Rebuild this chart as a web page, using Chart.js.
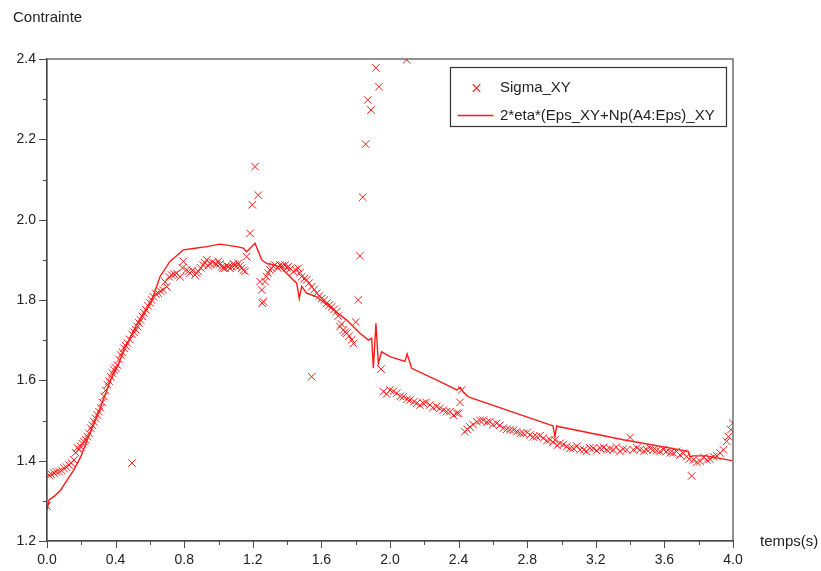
<!DOCTYPE html>
<html>
<head>
<meta charset="utf-8">
<script src="https://cdn.jsdelivr.net/npm/chart.js@4/dist/chart.umd.min.js"></script>
<style>
  html, body { margin: 0; padding: 0; background: #ffffff; }
  #wrap { width: 821px; height: 571px; position: relative; }
</style>
</head>
<body>
<div id="wrap"><canvas id="c"></canvas></div>
<script>
// ---- data ----
const sigmaLabel = 'Sigma_XY';
const modelLabel = '2*eta*(Eps_XY+Np(A4:Eps)_XY';
const xTitle = 'temps(s)';
const yTitle = 'Contrainte';

// Sigma_XY markers (first pass of readings)
const tSigma = [
  0.000, 0.012, 0.041, 0.070, 0.099, 0.128, 0.157, 0.177, 0.197, 0.216,
  0.235, 0.255, 0.274, 0.293, 0.313, 0.332, 0.342, 0.352, 0.371, 0.391,
  0.410, 0.430, 0.449, 0.468, 0.496, 0.497, 0.517, 0.536, 0.556, 0.576,
  0.601, 0.620, 0.649, 0.678, 0.698, 0.727, 0.756, 0.776, 0.795, 0.814,
  0.834, 0.863, 0.882, 0.911, 0.931, 0.950, 0.980, 0.999, 1.019, 1.038,
  1.057, 1.077, 1.096, 1.115, 1.135, 1.155, 1.164, 1.184, 1.197, 1.213,
  1.232, 1.242, 1.252, 1.255, 1.261, 1.271, 1.290, 1.310, 1.329, 1.359,
  1.388, 1.407, 1.436, 1.465, 1.485, 1.514, 1.543, 1.543, 1.573, 1.602,
  1.631, 1.660, 1.689, 1.708, 1.728, 1.748, 1.777, 1.787, 1.800, 1.815,
  1.825, 1.841, 1.858, 1.870, 1.889, 1.918, 1.936, 1.948, 1.961, 2.000,
  2.039, 2.078, 2.097, 2.117, 2.156, 2.194, 2.233, 2.272, 2.311, 2.350,
  2.389, 2.408, 2.418, 2.437, 2.466, 2.506, 2.544, 2.583, 2.622, 2.661,
  2.700, 2.739, 2.777, 2.816, 2.855, 2.894, 2.933, 2.962, 2.991, 3.030,
  3.069, 3.108, 3.147, 3.185, 3.225, 3.264, 3.302, 3.341, 3.380, 3.400,
  3.419, 3.458, 3.497, 3.536, 3.575, 3.613, 3.652, 3.691, 3.730, 3.759,
  3.769, 3.808, 3.847, 3.886, 3.925, 3.944, 3.963, 3.973, 3.987, 3.999
];
const sigmaXY = [
  1.287, 1.364, 1.369, 1.373, 1.381, 1.389, 1.402, 1.432, 1.435, 1.447,
  1.460, 1.481, 1.497, 1.514, 1.531, 1.560, 1.575, 1.589, 1.609, 1.626,
  1.638, 1.663, 1.680, 1.693, 1.394, 1.714, 1.726, 1.743, 1.759, 1.776,
  1.793, 1.808, 1.817, 1.825, 1.833, 1.862, 1.866, 1.858, 1.896, 1.875,
  1.867, 1.862, 1.871, 1.887, 1.900, 1.891, 1.891, 1.896, 1.883, 1.879,
  1.883, 1.883, 1.887, 1.891, 1.879, 1.871, 1.908, 1.966, 2.037, 2.132,
  2.061, 1.846, 1.825, 1.792, 1.796, 1.846, 1.867, 1.879, 1.887, 1.887,
  1.887, 1.883, 1.871, 1.879, 1.858, 1.850, 1.833, 1.609, 1.817, 1.804,
  1.792, 1.783, 1.771, 1.734, 1.725, 1.717, 1.701, 1.692, 1.745, 1.800,
  1.910, 2.056, 2.188, 2.298, 2.273, 2.378, 2.331, 1.628, 1.572, 1.576,
  1.568, 1.559, 2.398, 1.551, 1.543, 1.543, 1.539, 1.535, 1.526, 1.522,
  1.518, 1.545, 1.576, 1.472, 1.484, 1.497, 1.501, 1.497, 1.493, 1.481,
  1.477, 1.472, 1.468, 1.464, 1.460, 1.456, 1.452, 1.452, 1.443, 1.435,
  1.431, 1.427, 1.423, 1.431, 1.431, 1.427, 1.427, 1.423, 1.427, 1.458,
  1.427, 1.427, 1.427, 1.427, 1.423, 1.423, 1.419, 1.414, 1.410, 1.362,
  1.402, 1.398, 1.402, 1.410, 1.419, 1.427, 1.448, 1.460, 1.477, 1.493
];

// Sigma_XY markers (second pass: the overlapping markers of the dense band)
const tSigmaB = [
  0.025, 0.055, 0.085, 0.113, 0.142, 0.167, 0.187, 0.207, 0.225, 0.245,
  0.265, 0.284, 0.303, 0.322, 0.362, 0.381, 0.400, 0.420, 0.440, 0.459,
  0.482, 0.507, 0.527, 0.546, 0.566, 0.588, 0.610, 0.635, 0.663, 0.688,
  0.712, 0.742, 0.790, 0.824, 0.848, 0.872, 0.896, 0.920, 0.940, 0.965,
  0.990, 1.010, 1.028, 1.047, 1.067, 1.087, 1.105, 1.125, 1.145, 1.280,
  1.300, 1.320, 1.345, 1.373, 1.398, 1.420, 1.450, 1.475, 1.500, 1.528,
  1.558, 1.588, 1.617, 1.645, 1.675, 1.698, 1.718, 1.738, 1.762, 1.980,
  2.020, 2.060, 2.100, 2.140, 2.175, 2.210, 2.250, 2.290, 2.330, 2.370,
  2.400, 2.450, 2.485, 2.525, 2.565, 2.600, 2.640, 2.680, 2.720, 2.760,
  2.800, 2.835, 2.875, 2.915, 2.950, 2.975, 3.010, 3.050, 3.090, 3.130,
  3.165, 3.205, 3.245, 3.285, 3.320, 3.360, 3.440, 3.480, 3.520, 3.555,
  3.595, 3.635, 3.670, 3.710, 3.745, 3.790, 3.830, 3.865, 3.905
];
const sigmaXYB = [
  1.366, 1.372, 1.376, 1.384, 1.394, 1.420, 1.428, 1.442, 1.452, 1.468,
  1.488, 1.505, 1.522, 1.545, 1.598, 1.618, 1.631, 1.652, 1.670, 1.686,
  1.702, 1.720, 1.734, 1.750, 1.768, 1.786, 1.800, 1.815, 1.822, 1.845,
  1.858, 1.864, 1.880, 1.871, 1.874, 1.867, 1.880, 1.893, 1.885, 1.894,
  1.888, 1.890, 1.880, 1.886, 1.879, 1.890, 1.884, 1.885, 1.874, 1.858,
  1.875, 1.884, 1.880, 1.885, 1.880, 1.878, 1.875, 1.868, 1.853, 1.842,
  1.826, 1.810, 1.800, 1.787, 1.777, 1.760, 1.740, 1.720, 1.710, 1.566,
  1.573, 1.560, 1.553, 1.547, 1.538, 1.545, 1.532, 1.530, 1.522, 1.513,
  1.518, 1.478, 1.490, 1.500, 1.496, 1.490, 1.488, 1.478, 1.476, 1.468,
  1.470, 1.459, 1.462, 1.450, 1.446, 1.438, 1.440, 1.431, 1.436, 1.427,
  1.432, 1.425, 1.433, 1.429, 1.434, 1.429, 1.432, 1.424, 1.430, 1.425,
  1.428, 1.420, 1.423, 1.418, 1.404, 1.396, 1.408, 1.404, 1.412
];

// model curve
const tModel = [
  0.000, 0.012, 0.041, 0.080, 0.118, 0.157, 0.197, 0.235, 0.274, 0.313,
  0.342, 0.371, 0.410, 0.449, 0.488, 0.527, 0.566, 0.605, 0.659, 0.717,
  0.756, 0.795, 0.863, 0.931, 1.009, 1.106, 1.145, 1.164, 1.213, 1.252,
  1.281, 1.359, 1.436, 1.456, 1.471, 1.485, 1.514, 1.573, 1.670, 1.748,
  1.825, 1.874, 1.893, 1.903, 1.918, 1.932, 1.951, 2.000, 2.087, 2.100,
  2.126, 2.292, 2.389, 2.410, 2.428, 2.457, 2.933, 2.950, 2.962, 2.972,
  2.981, 3.360, 3.739, 3.749, 3.769, 3.846, 3.994
];
const modelXY = [
  1.277, 1.302, 1.311, 1.327, 1.352, 1.377, 1.410, 1.452, 1.493, 1.534,
  1.568, 1.601, 1.634, 1.676, 1.709, 1.742, 1.767, 1.792, 1.858, 1.896,
  1.910, 1.925, 1.929, 1.933, 1.939, 1.933, 1.929, 1.920, 1.941, 1.900,
  1.891, 1.883, 1.850, 1.842, 1.804, 1.834, 1.817, 1.808, 1.775, 1.750,
  1.717, 1.700, 1.705, 1.630, 1.742, 1.642, 1.671, 1.659, 1.647, 1.666,
  1.630, 1.597, 1.576, 1.582, 1.570, 1.559, 1.489, 1.487, 1.460, 1.487,
  1.485, 1.452, 1.423, 1.410, 1.412, 1.412, 1.400
];

const xTickLabels = ['0.0','0.4','0.8','1.2','1.6','2.0','2.4','2.8','3.2','3.6','4.0'];
const yTickLabels = ['1.2','1.4','1.6','1.8','2.0','2.2','2.4'];

// ---- chart ----
const RED = '#ff1a1a';
const AXIS = '#4a4a4a';
const TXT = '#222222';
const FONT = '"Liberation Sans", Arial, Helvetica, sans-serif';

function isMultiple(v, step) {
  const q = v / step;
  return Math.abs(q - Math.round(q)) < 1e-6;
}

const decorPlugin = {
  id: 'decor',
  afterDraw(chart) {
    const ctx = chart.ctx;
    const a = chart.chartArea;
    const xs = chart.scales.x, ys = chart.scales.y;
    ctx.save();
    // frame
    ctx.strokeStyle = AXIS;
    ctx.lineWidth = 1.2;
    ctx.strokeRect(a.left, a.top, a.right - a.left, a.bottom - a.top);
    // ticks
    ctx.beginPath();
    xs.ticks.forEach(t => {
      const px = Math.round(xs.getPixelForValue(t.value)) + 0.5;
      const len = isMultiple(t.value, 0.4) ? 7 : 4;
      ctx.moveTo(px, a.bottom);
      ctx.lineTo(px, a.bottom + len);
    });
    ys.ticks.forEach(t => {
      const py = Math.round(ys.getPixelForValue(t.value)) + 0.5;
      const len = isMultiple(t.value, 0.2) ? 8 : 4;
      ctx.moveTo(a.left, py);
      ctx.lineTo(a.left - len, py);
    });
    ctx.lineWidth = 1;
    ctx.stroke();
    // axis titles
    ctx.fillStyle = TXT;
    ctx.font = '15px ' + FONT;
    ctx.textBaseline = 'middle';
    ctx.textAlign = 'left';
    ctx.fillText(yTitle, 13, 18);
    ctx.fillText(xTitle, a.right + 27, a.bottom + 1);
    // legend
    const bx = a.right - 282.5, by = a.top + 8.5, bw = 276, bh = 59;
    ctx.fillStyle = '#ffffff';
    ctx.fillRect(bx, by, bw, bh);
    ctx.strokeStyle = '#333333';
    ctx.lineWidth = 1.2;
    ctx.strokeRect(bx, by, bw, bh);
    const ds0 = chart.data.datasets[0], ds1 = chart.data.datasets[1];
    const mx = bx + 26, my = by + 20.5, r = 3.8;
    ctx.strokeStyle = ds0.borderColor;
    ctx.lineWidth = 1.2;
    ctx.beginPath();
    ctx.moveTo(mx - r, my - r); ctx.lineTo(mx + r, my + r);
    ctx.moveTo(mx - r, my + r); ctx.lineTo(mx + r, my - r);
    ctx.stroke();
    const ly = by + 48;
    ctx.strokeStyle = ds1.borderColor;
    ctx.lineWidth = 1.4;
    ctx.beginPath();
    ctx.moveTo(bx + 7, ly); ctx.lineTo(bx + 43, ly);
    ctx.stroke();
    ctx.fillStyle = TXT;
    ctx.font = '15px ' + FONT;
    ctx.fillText(ds0.label, bx + 49.5, my);
    ctx.fillText(ds1.label, bx + 49.5, ly);
    ctx.restore();
  }
};

const sigmaPoints = tSigma.map((t, i) => ({ x: t, y: sigmaXY[i] }))
  .concat(tSigmaB.map((t, i) => ({ x: t, y: sigmaXYB[i] })));

new Chart(document.getElementById('c'), {
  type: 'scatter',
  data: {
    datasets: [
      {
        label: sigmaLabel,
        data: sigmaPoints,
        showLine: false,
        pointStyle: 'crossRot',
        pointRadius: 5.3,
        pointHoverRadius: 5.3,
        borderColor: RED,
        backgroundColor: RED,
        pointBorderWidth: 1.0,
        order: 2
      },
      {
        label: modelLabel,
        data: tModel.map((t, i) => ({ x: t, y: modelXY[i] })),
        showLine: true,
        pointRadius: 0,
        pointHoverRadius: 0,
        borderColor: RED,
        backgroundColor: RED,
        borderWidth: 1.4,
        tension: 0,
        order: 1
      }
    ]
  },
  options: {
    responsive: true,
    maintainAspectRatio: false,
    animation: false,
    events: [],
    layout: { padding: { left: 0, top: 59, right: 88, bottom: 0 } },
    plugins: {
      legend: { display: false },
      tooltip: { enabled: false },
      title: { display: false }
    },
    scales: {
      x: {
        type: 'linear',
        min: 0, max: 4,
        afterFit(scale) { scale.height = 30; },
        border: { display: true, color: AXIS, width: 1.2 },
        grid: { display: true, drawOnChartArea: false, drawTicks: true, tickLength: 8, color: 'rgba(0,0,0,0)' },
        ticks: {
          stepSize: 0.2,
          autoSkip: false,
          maxRotation: 0,
          padding: 3,
          color: TXT,
          font: { family: FONT, size: 14 },
          callback(v) {
            if (!isMultiple(v, 0.4)) return '';
            return xTickLabels[Math.round(v / 0.4)];
          }
        }
      },
      y: {
        type: 'linear',
        min: 1.2, max: 2.4,
        afterFit(scale) { scale.width = 47; },
        border: { display: true, color: AXIS, width: 1.2 },
        grid: { display: true, drawOnChartArea: false, drawTicks: true, tickLength: 8, color: 'rgba(0,0,0,0)' },
        ticks: {
          stepSize: 0.1,
          autoSkip: false,
          padding: 3,
          color: TXT,
          font: { family: FONT, size: 14 },
          callback(v) {
            if (!isMultiple(v - 1.2, 0.2)) return '';
            return yTickLabels[Math.round((v - 1.2) / 0.2)];
          }
        }
      }
    }
  },
  plugins: [decorPlugin]
});
</script>
</body>
</html>
